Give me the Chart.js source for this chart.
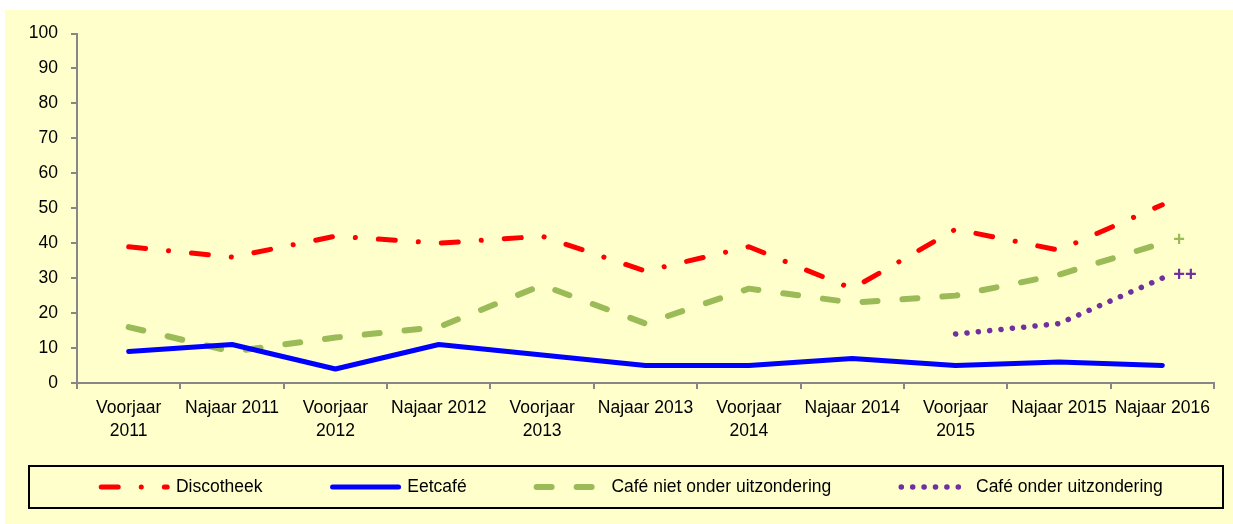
<!DOCTYPE html>
<html>
<head>
<meta charset="utf-8">
<script src="https://cdn.jsdelivr.net/npm/chart.js@4.4.0/dist/chart.umd.min.js"></script>
<style>
    body { margin: 0; background: #ffffff; }
    #wrap { position: absolute; left: 5px; top: 10px; width: 1228px; height: 514px; background: #FFFFCC; }
</style>
</head>
<body>
<div id="wrap"><canvas id="myChart"></canvas></div>
<script>
    var labels = [['Voorjaar', '2011'], 'Najaar 2011', ['Voorjaar', '2012'], 'Najaar 2012',
                  ['Voorjaar', '2013'], 'Najaar 2013', ['Voorjaar', '2014'], 'Najaar 2014',
                  ['Voorjaar', '2015'], 'Najaar 2015', 'Najaar 2016'];
    var discotheek = [39, 36, 42, 40, 42, 32, 39, 27, 44, 38, 51];
    var eetcafe    = [9, 11, 4, 11, 8, 5, 5, 7, 5, 6, 5];
    var cafeNiet   = [16, 9, 13, 16, 28, 17, 27, 23, 25, 31, 40];
    var cafeOnder  = [null, null, null, null, null, null, null, null, 14, 17, 30];
    var endMarks   = { 2: '+', 3: '++' };

    var font = '"Liberation Sans", Arial, sans-serif';
    var axisGrey = '#878787';
    var legendPad = 70;

    // "+" / "++" next to the last point of a series
    var endMarkPlugin = {
        id: 'endMarks',
        afterDatasetsDraw: function (chart) {
            var ctx = chart.ctx;
            ctx.save();
            ctx.font = 'bold 20px ' + font;
            ctx.textAlign = 'left';
            ctx.textBaseline = 'middle';
            for (var i in endMarks) {
                var meta = chart.getDatasetMeta(i);
                var pt = meta.data[meta.data.length - 1];
                ctx.fillStyle = chart.data.datasets[i].borderColor;
                ctx.fillText(endMarks[i], pt.x + 11, pt.y - 3);
            }
            ctx.restore();
        }
    };

    // put the legend row where the original had it and draw the frame round it
    var legendFrame = {
        id: 'legendFrame',
        beforeDraw: function (chart) {
            var lg = chart.legend;
            var center = 477;
            lg.top = center - legendPad - 17.5 / 2;
            lg.left = 627 - 700;
            lg.right = 627 + 700;
        },
        afterDraw: function (chart) {
            var ctx = chart.ctx;
            ctx.save();
            ctx.strokeStyle = '#000';
            ctx.lineWidth = 2;
            ctx.strokeRect(24, 456, chart.width - 34, 42);
            ctx.restore();
        }
    };

    var ctx = document.getElementById('myChart').getContext('2d');
    var chart = new Chart(ctx, {
        type: 'line',
        data: {
            labels: labels,
            datasets: [{
                label: 'Discotheek',
                data: discotheek,
                borderColor: '#FF0000',
                backgroundColor: '#FF0000',
                borderWidth: 5,
                borderDash: [17, 23, 0.1, 23],
                borderCapStyle: 'round'
            }, {
                label: 'Eetcafé',
                data: eetcafe,
                borderColor: '#0000FF',
                backgroundColor: '#0000FF',
                borderWidth: 5,
                borderDash: [],
                borderCapStyle: 'round'
            }, {
                label: 'Café niet onder uitzondering',
                data: cafeNiet,
                borderColor: '#9BBB59',
                backgroundColor: '#9BBB59',
                borderWidth: 6,
                borderDash: [15, 25],
                borderCapStyle: 'round'
            }, {
                label: 'Café onder uitzondering',
                data: cafeOnder,
                borderColor: '#7030A0',
                backgroundColor: '#7030A0',
                borderWidth: 5.5,
                borderDash: [0.1, 11.3],
                borderCapStyle: 'round'
            }]
        },
        options: {
            responsive: true,
            maintainAspectRatio: false,
            animation: false,
            elements: {
                point: { radius: 0, hoverRadius: 0 },
                line: { tension: 0, borderJoinStyle: 'round' }
            },
            layout: { padding: { left: 0, right: 19, top: 23, bottom: 0 } },
            scales: {
                x: {
                    offset: true,
                    afterFit: function (scale) { scale.height = 101; },
                    border: { color: axisGrey, width: 2 },
                    grid: { offset: true, drawOnChartArea: false, drawTicks: true, tickLength: 6, color: axisGrey, lineWidth: 2 },
                    ticks: { color: '#000', padding: 8, maxRotation: 0, autoSkip: false,
                             font: { family: font, size: 17.5, lineHeight: 23 / 17.5 } }
                },
                y: {
                    min: 0,
                    max: 100,
                    afterFit: function (scale) { scale.width = 72; },
                    border: { color: axisGrey, width: 2 },
                    grid: { drawOnChartArea: false, drawTicks: true, tickLength: 6, color: axisGrey, lineWidth: 2 },
                    ticks: { stepSize: 10, color: '#000', padding: 13, font: { family: font, size: 17.5 } }
                }
            },
            plugins: {
                tooltip: { enabled: false },
                legend: {
                    position: 'bottom',
                    maxHeight: 40,
                    labels: {
                        color: '#000',
                        font: { family: font, size: 17.5 },
                        usePointStyle: true,
                        pointStyle: 'line',
                        pointStyleWidth: 66,
                        padding: legendPad,
                        generateLabels: function (chart) {
                            var items = Chart.defaults.plugins.legend.labels.generateLabels(chart);
                            items.forEach(function (it) {
                                var ds = chart.data.datasets[it.datasetIndex];
                                it.strokeStyle = ds.borderColor;
                                it.lineWidth = ds.borderWidth;
                                it.lineDash = ds.borderDash;
                                it.lineCap = 'round';
                                it.pointStyle = 'line';
                            });
                            return items;
                        }
                    }
                }
            }
        },
        plugins: [endMarkPlugin, legendFrame]
    });
</script>
</body>
</html>
